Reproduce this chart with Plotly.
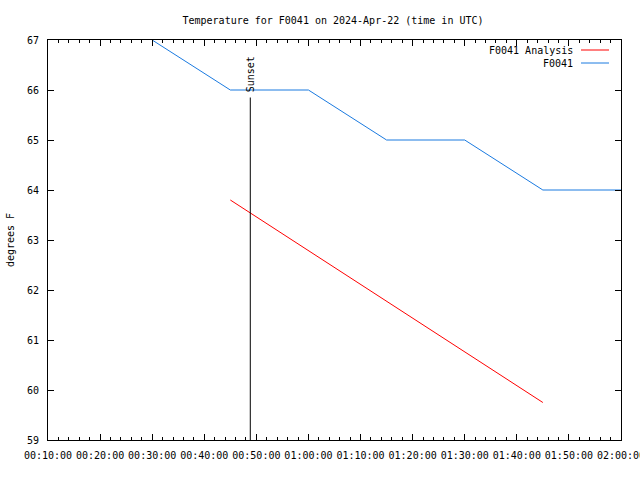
import plotly.graph_objects as go

# Data
obs_times = ["2024-04-22 00:30:00", "2024-04-22 00:45:00", "2024-04-22 01:00:00",
             "2024-04-22 01:15:00", "2024-04-22 01:30:00", "2024-04-22 01:45:00",
             "2024-04-22 02:00:00"]
obs_temps = [67, 66, 66, 65, 65, 64, 64]
ana_times = ["2024-04-22 00:45:00", "2024-04-22 01:45:00"]
ana_temps = [63.8, 59.75]
sunset_time = "2024-04-22 00:48:50"
sunset_top = 65.85
x_range = ["2024-04-22 00:10:00", "2024-04-22 02:00:00"]
y_range = [59, 67]

FONT = "DejaVu Sans Mono"
BLUE = "#1a7ae0"
RED = "#ff0000"

fig = go.Figure()
fig.add_trace(go.Scatter(x=ana_times, y=ana_temps, mode="lines",
                         line=dict(color=RED, width=1), name="F0041 Analysis",
                         showlegend=False))
fig.add_trace(go.Scatter(x=obs_times, y=obs_temps, mode="lines",
                         line=dict(color=BLUE, width=1), name="F0041",
                         showlegend=False))
fig.add_trace(go.Scatter(x=[sunset_time, sunset_time], y=[y_range[0], sunset_top],
                         mode="lines", line=dict(color="black", width=1),
                         showlegend=False))

fig.add_annotation(x=sunset_time, y=66.32, text="Sunset", textangle=-90,
                   showarrow=False, xanchor="center", yanchor="middle",
                   font=dict(family=FONT, size=10, color="black"))

# manual gnuplot-style legend (text left of sample)
legend_items = [("F0041 Analysis", RED), ("F0041", BLUE)]
for i, (label, col) in enumerate(legend_items):
    ypix = 50 + 13 * i
    yp = 1 - (ypix - 40) / 400
    fig.add_annotation(xref="paper", yref="paper", x=(575 - 48) / 573, y=yp,
                       text=label, showarrow=False, xanchor="right", yanchor="middle",
                       font=dict(family=FONT, size=10, color="black"))
    fig.add_shape(type="line", xref="paper", yref="paper",
                  x0=(581 - 48) / 573, x1=(609 - 48) / 573, y0=yp, y1=yp,
                  line=dict(color=col, width=1))

axis_common = dict(showgrid=False, zeroline=False, showline=True, linecolor="black",
                   linewidth=1, mirror="allticks", ticks="inside", tickcolor="black",
                   ticklen=6, automargin=False,
                   tickfont=dict(family=FONT, size=10, color="black"))

fig.update_xaxes(type="date", range=x_range, dtick=600000, tickformat="%H:%M:%S",
                 ticklabeloverflow="allow", ticklabelstandoff=6,
                 minor=dict(dtick=120000, ticks="inside", ticklen=3, tickcolor="black"),
                 **axis_common)
fig.update_yaxes(range=y_range, dtick=1, ticklabelstandoff=6,
                 title=dict(text="degrees F", font=dict(family=FONT, size=10, color="black"),
                            standoff=10),
                 **axis_common)

fig.update_layout(
    width=640, height=480,
    margin=dict(l=48, r=19, t=40, b=40),
    paper_bgcolor="white", plot_bgcolor="white",
    title=dict(text="Temperature for F0041 on 2024-Apr-22 (time in UTC)",
               x=333 / 640, xanchor="center", y=1 - 20 / 480, yanchor="middle",
               font=dict(family=FONT, size=10, color="black")),
    font=dict(family=FONT, size=10, color="black"),
)

fig.write_html("out.html", config={"displayModeBar": False},
               post_script="document.body.style.margin='0';")
